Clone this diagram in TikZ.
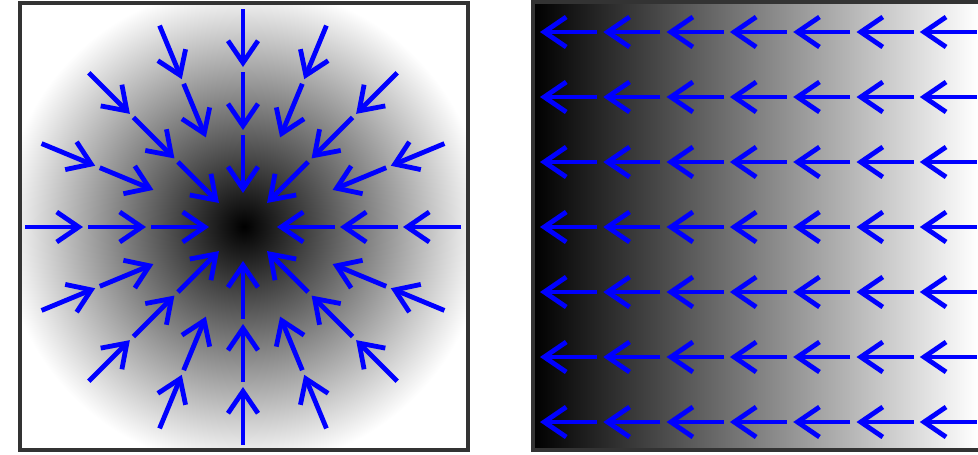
\documentclass[tikz,border=0pt]{standalone}
\usetikzlibrary{arrows.meta, calc}
\pgfdeclareradialshading{glow}{\pgfpoint{0bp}{0bp}}{color(0bp)=(black); color(27bp)=(white); color(50bp)=(white)}

\begin{document}
\begin{tikzpicture}[
  x=0.25mm, y=-0.25mm,
  grad/.style={blue, line width=1.2mm, -{Straight Barb[length=5.5mm, width=7.5mm]}},
  frame/.style={draw=black!80, line width=0.8mm}
]
\useasboundingbox (0,0) rectangle (978,454);

% radial field (left)
\shade[shading=glow] (20,3) rectangle (468,450);
\draw[frame] (20,3) rectangle (468,450);
\coordinate (c) at (243,227);
\foreach \a in {0,45,...,315}
  \foreach \ro/\ri in {218/160, 155/97, 92/34}
    \draw[grad] ($(c)+(\a:\ro)$) -- ($(c)+(\a:\ri)$);
\foreach \a in {22.5,67.5,...,337.5}
  \foreach \ro/\ri in {218/160, 155/97}
    \draw[grad] ($(c)+(\a:\ro)$) -- ($(c)+(\a:\ri)$);

% linear field (right)
\shade[left color=black, right color=white] (533,2) rectangle (978,450);
\draw[frame] (1000,2) -- (533,2) -- (533,450) -- (1000,450);
\foreach \row in {0,...,6}
  \foreach \col in {0,...,6}
    \draw[grad] (597+63.3*\col, 32+65*\row) -- (540+63.3*\col, 32+65*\row);

\end{tikzpicture}
\end{document}
